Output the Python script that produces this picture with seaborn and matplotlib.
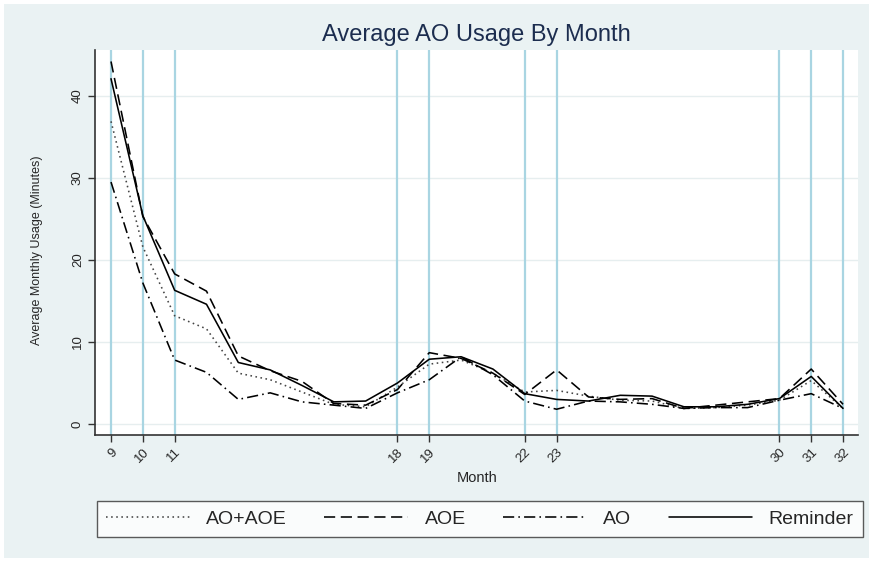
import matplotlib
matplotlib.use("Agg")
import matplotlib.pyplot as plt
from matplotlib.patches import Rectangle
from matplotlib.lines import Line2D
import seaborn as sns
import pandas as pd

months = list(range(9, 33))
ao_aoe = [36.9, 21.6, 13.2, 11.6, 6.2, 5.4, 3.9, 2.4, 2.1, 4.5, 7.3, 7.8, 6.2, 3.9, 4.1, 3.4, 2.9, 2.8, 1.9, 2.0, 2.3, 2.9, 5.3, 1.9]
aoe = [44.2, 25.3, 18.3, 16.2, 8.3, 6.5, 5.2, 2.5, 2.3, 4.2, 8.7, 8.0, 6.2, 3.6, 6.6, 3.3, 3.0, 3.1, 1.9, 2.3, 2.7, 3.1, 6.7, 2.4]
ao = [29.5, 17.2, 7.8, 6.3, 3.0, 3.8, 2.7, 2.3, 1.9, 3.8, 5.4, 8.2, 6.0, 2.8, 1.8, 2.8, 2.7, 2.4, 1.9, 2.0, 2.0, 2.9, 3.7, 1.9]
reminder = [42.1, 25.4, 16.3, 14.6, 7.5, 6.6, 4.7, 2.7, 2.8, 5.0, 7.9, 8.2, 6.7, 3.7, 3.0, 2.8, 3.5, 3.4, 2.1, 2.1, 2.4, 3.1, 5.8, 1.9]
series_names = ["AO+AOE", "AOE", "AO", "Reminder"]
xticks = [9, 10, 11, 18, 19, 22, 23, 30, 31, 32]
yticks = [0, 10, 20, 30, 40]

sns.set_theme(style="white")
plt.rcParams['font.family'] = ['Liberation Sans', 'DejaVu Sans']

bg = "#eaf2f3"
df = pd.concat([
    pd.DataFrame({"Month": months, "Usage": vals, "Group": name})
    for name, vals in zip(series_names, [ao_aoe, aoe, ao, reminder])
], ignore_index=True)

fig = plt.figure(figsize=(8.73, 5.62), dpi=100)
fig.patch.set_facecolor("white")
fig.patches.append(Rectangle((4/873, 4/562), 865/873, 554/562, transform=fig.transFigure,
                             facecolor=bg, edgecolor="none", zorder=-10))
ax = fig.add_axes([95/873, 1 - 435/562, (858 - 95)/873, (435 - 50)/562])
ax.set_facecolor("white")

for yt in yticks:
    ax.axhline(yt, color="#e6eeef", lw=1.0, zorder=0)
for xt in xticks:
    ax.axvline(xt, color="#a9d5e2", lw=1.6, zorder=1)

dashes = {"AO+AOE": (1, 2.2), "AOE": (7, 3.5), "AO": (7, 2.6, 1, 2.6), "Reminder": ""}
palette = {"AO+AOE": "#444444", "AOE": "black", "AO": "black", "Reminder": "black"}
sns.lineplot(data=df, x="Month", y="Usage", hue="Group", style="Group",
             dashes=dashes, palette=palette, hue_order=series_names, style_order=series_names,
             lw=1.15, ax=ax, legend=False, zorder=3)

ax.set_xlim(8.497, 32.47)
ax.set_ylim(-1.34, 45.6)
ax.set_xticks(xticks)
ax.set_xticklabels([str(x) for x in xticks], rotation=45, ha="right", rotation_mode="anchor", fontsize=9.5)
ax.set_yticks(yticks)
ax.set_yticklabels([str(y) for y in yticks], rotation=90, va="center", fontsize=9.5)
ax.tick_params(axis="both", direction="out", length=5, width=1, color="#333333", pad=3, bottom=True, left=True)
for s in ["top", "right"]:
    ax.spines[s].set_visible(False)
for s in ["left", "bottom"]:
    ax.spines[s].set_color("#333333")
    ax.spines[s].set_linewidth(1.2)

ax.set_xlabel("Month", fontsize=10.5, va="center")
ax.xaxis.set_label_coords((477 - 95) / 763, (435 - 478) / 385)
ax.set_ylabel("Average Monthly Usage (Minutes)", fontsize=9, va="center")
ax.yaxis.set_label_coords((37 - 95) / 763, (435 - 250) / 385)
fig.text(476.5/873, 1 - 35/562, "Average AO Usage By Month", ha="center", va="center",
         fontsize=17, color="#1c2d4f")

handles = []
for name in series_names:
    d = dashes[name]
    ls = "-" if d == "" else (0, d)
    handles.append(Line2D([0], [0], color=palette[name], lw=1.15, linestyle=ls))
leg = fig.legend(handles, series_names, ncol=4, loc="center",
                 bbox_to_anchor=(480/873, 1 - 519/562),
                 frameon=True, fancybox=False, edgecolor="#333333", facecolor="white",
                 fontsize=14, handlelength=4.3, handletextpad=0.85, borderaxespad=0,
                 borderpad=0.45, columnspacing=1.92)
leg.get_frame().set_linewidth(1.0)

fig.savefig("out.png", dpi=100, facecolor=fig.get_facecolor())
